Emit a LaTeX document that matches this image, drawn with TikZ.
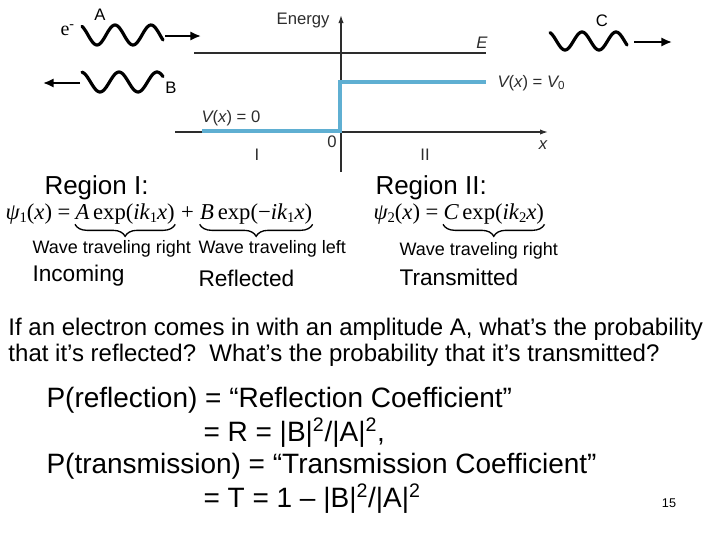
\documentclass[tikz,border=0pt]{standalone}
\usepackage{fontspec}
\setmainfont{Liberation Sans}
\newfontfamily\timesfont{Liberation Serif}
\usetikzlibrary{arrows.meta,positioning,decorations.pathreplacing}

\definecolor{potblue}{RGB}{95,175,210}
\definecolor{axisgray}{RGB}{45,45,45}

\newcommand{\lowidx}[1]{\raisebox{-0.35ex}{\fontsize{11}{12}\selectfont #1}}

\tikzset{every picture/.style={line width=0.75pt}}
\tikzset{
  wave/.style={line width=2.4pt, line cap=round},
  motion/.style={line width=1.5pt, -{Latex[length=8pt,width=7pt]}},
  axis/.style={color=axisgray, line width=1pt},
  potential/.style={color=potblue, line width=2.6pt},
  ubrace/.style={decorate, decoration={brace, mirror, amplitude=9pt}, line width=1pt},
  plotlabel/.style={color=axisgray, inner sep=0.75pt, font=\fontsize{12.5}{14}\selectfont},
  wavelabel/.style={inner sep=0.75pt, font=\fontsize{12.5}{14}\selectfont},
  region/.style={inner sep=0.75pt, font=\fontsize{19.5}{22}\selectfont},
  formula/.style={inner sep=0pt, font=\timesfont\fontsize{17}{20}\selectfont},
  note/.style={inner sep=0.75pt, font=\fontsize{13.5}{16}\selectfont},
  kind/.style={inner sep=0.75pt, font=\fontsize{17}{20}\selectfont},
  question/.style={inner sep=0.75pt, align=left, font=\fontsize{18}{19.5}\selectfont},
  result/.style={inner sep=0.75pt, font=\fontsize{21}{24}\selectfont},
}

\begin{document}
\begin{tikzpicture}[x=0.75pt,y=0.75pt,yscale=-1,xscale=1]
\useasboundingbox (0,0) rectangle (720,540);

%Waves
\draw[wave] plot[domain=82:163, samples=60] (\x, {35+10*sin(10*(\x-88))});
\draw[wave] plot[domain=82:163, samples=60] (\x, {82+10*sin(9.474*(\x-90.5))});
\draw[wave] plot[domain=550:627, samples=60] (\x, {41+9*sin(10.588*(\x-556.5))});

%Arrows
\coordinate (waveAend) at (165,36);
\coordinate (arrowAtip) at (201,36);
\coordinate (waveBend) at (80,83);
\coordinate (arrowBtip) at (43,83);
\coordinate (waveCend) at (634,42);
\coordinate (arrowCtip) at (672,42);
\draw[motion] (waveAend) -- (arrowAtip);
\draw[motion] (waveBend) -- (arrowBtip);
\draw[motion] (waveCend) -- (arrowCtip);

% Text Node
\node[inner sep=0.75pt, anchor=west, font=\timesfont\fontsize{15}{16}\selectfont] (elabel) at (59,30) {e\textsuperscript{-}};
\node[wavelabel] (alabel) at (100,15) {A};
\node[wavelabel] (blabel) at (171,88) {B};
\node[wavelabel] (clabel) at (602,21) {C};

%Axes
\coordinate (energyBot) at (341,172);
\coordinate (energyTop) at (341,15);
\coordinate (xLeft) at (175,132);
\coordinate (xRight) at (548,132);
\coordinate (eLeft) at (194,53);
\coordinate (eRight) at (486,53);
\draw[axis, -{Latex[length=6pt,width=4pt]}] (energyBot) -- (energyTop);
\draw[axis, -{Latex[length=6pt,width=4pt]}] (xLeft) -- (xRight);
\draw[axis, line width=0.8pt] (eLeft) -- (eRight);

%Potential step
\coordinate (potStart) at (202,131);
\coordinate (stepLow) at (340,131);
\coordinate (stepHigh) at (340,82);
\coordinate (potEnd) at (486,82);
\draw[potential] (potStart) -- (stepLow) -- (stepHigh) -- (potEnd);

% Text Node
\node[plotlabel, anchor=east] (energy) at (331,20) {Energy};
\node[plotlabel] (elevel) at (482,43) {\itshape E};
\node[plotlabel, anchor=west] (vhigh) at (496,83) {\itshape V\upshape(\itshape x\upshape) = \itshape V\textsubscript{\upshape 0}};
\node[plotlabel, anchor=west] (vlow) at (200,118) {\itshape V\upshape(\itshape x\upshape) = 0};
\node[plotlabel] (xlabel) at (543,145) {\itshape x};
\node[plotlabel] (origin) at (332,142) {0};
\node[plotlabel] (regI) at (257,155) {I};
\node[plotlabel] (regII) at (425,155) {II};

% Region I
\node[region, anchor=base west] (regionI) at (43,194) {Region I:};
\node[formula, anchor=base west] (psiI) at (5,219) {\itshape ψ\upshape\lowidx{1}(\itshape x\upshape) = };
\node[formula, base right=3pt of psiI] (termA) {\itshape A\upshape\,exp(\itshape ik\upshape\lowidx{1}\itshape x\upshape)};
\node[formula, base right=4pt of termA] (plusI) {+};
\node[formula, base right=4pt of plusI] (termB) {\itshape B\upshape\,exp(−\itshape ik\upshape\lowidx{1}\itshape x\upshape)};
\draw[ubrace] (termA.south west) -- (termA.south east);
\draw[ubrace] (termB.south west) -- (termB.south east);
\node[note, anchor=west] (rightI) at (31,249) {Wave traveling right};
\node[note, anchor=west] (leftI) at (197,249) {Wave traveling left};
\node[kind, anchor=west] (incoming) at (31,276) {Incoming};
\node[kind, anchor=west] (reflected) at (197,278) {Reflected};

% Region II
\node[region, anchor=base west] (regionII) at (374,194) {Region II:};
\node[formula, anchor=base west] (psiII) at (373,219) {\itshape ψ\upshape\lowidx{2}(\itshape x\upshape) = };
\node[formula, base right=3pt of psiII] (termC) {\itshape C\upshape\,exp(\itshape ik\upshape\lowidx{2}\itshape x\upshape)};
\draw[ubrace] (termC.south west) -- (termC.south east);
\node[note, anchor=west] (rightII) at (398,251) {Wave traveling right};
\node[kind, anchor=west] (transmitted) at (398,277) {Transmitted};

% Question
\node[question, anchor=west] (ask) at (7,342) {If an electron comes in with an amplitude A, what’s the probability\\that it’s reflected?\ \ What’s the probability that it’s transmitted?};

% Coefficients
\node[result, anchor=west] (preflect) at (45,400) {P(reflection) = “Reflection Coefficient”};
\node[result, anchor=west] (rcoef) at (202,433) {= R = |B|\textsuperscript{2}/|A|\textsuperscript{2},};
\node[result, anchor=west] (ptrans) at (45,466) {P(transmission) = “Transmission Coefficient”};
\node[result, anchor=west] (tcoef) at (202,499) {= T = 1 – |B|\textsuperscript{2}/|A|\textsuperscript{2}};
\node[inner sep=0.75pt, font=\fontsize{9.5}{11}\selectfont] (page) at (669,503) {15};

\end{tikzpicture}
\end{document}
